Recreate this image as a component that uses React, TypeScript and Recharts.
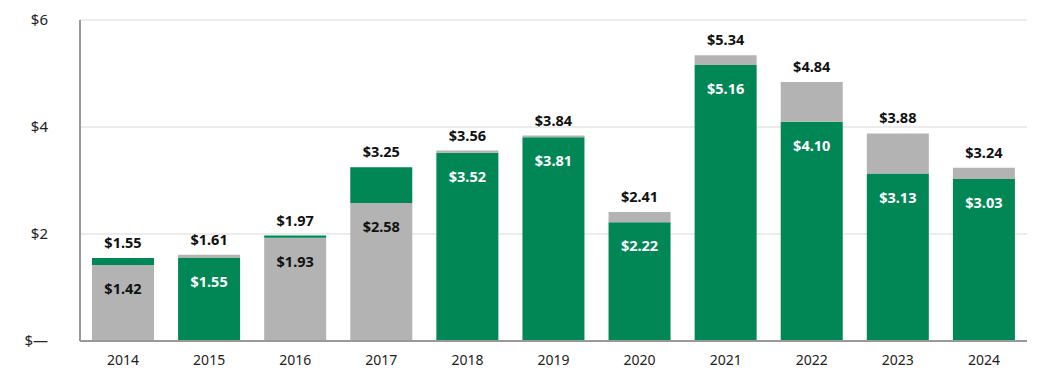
import React from "react";
import { BarChart, Bar, XAxis, YAxis, CartesianGrid, Cell, LabelList } from "recharts";

const years = ["2014", "2015", "2016", "2017", "2018", "2019", "2020", "2021", "2022", "2023", "2024"];
// lower value shown inside the bar, and total shown above it
const lowerValues = [1.42, 1.55, 1.93, 2.58, 3.52, 3.81, 2.22, 5.16, 4.1, 3.13, 3.03];
const totals = [1.55, 1.61, 1.97, 3.25, 3.56, 3.84, 2.41, 5.34, 4.84, 3.88, 3.24];
// which segment is green at the bottom
const lowerIsGreen = [false, true, false, false, true, true, true, true, true, true, true];
const yTicks = [0, 2, 4, 6];

const GREEN = "#008755";
const GRAY = "#b3b3b3";
const FONT = "'Noto Sans', 'Open Sans', sans-serif";

const data = years.map((year, i) => ({
  year,
  lower: lowerValues[i],
  upper: Math.round((totals[i] - lowerValues[i]) * 100) / 100,
  total: totals[i],
  green: lowerIsGreen[i],
}));

const money = (v: number) => "$" + v.toFixed(2);

const LowerLabel = (props: any) => {
  const { x, y, width, index } = props;
  const d = data[index];
  return (
    <text
      x={x + width / 2}
      y={y + 23}
      textAnchor="middle"
      dominantBaseline="central"
      fontFamily={FONT}
      fontWeight={700}
      fontSize={14.5}
      fill={d.green ? "#ffffff" : "#111111"}
    >
      {money(d.lower)}
    </text>
  );
};

const TotalLabel = (props: any) => {
  const { x, y, width, index } = props;
  const d = data[index];
  return (
    <text
      x={x + width / 2}
      y={y - 16}
      textAnchor="middle"
      dominantBaseline="central"
      fontFamily={FONT}
      fontWeight={700}
      fontSize={14.5}
      fill="#111111"
    >
      {money(d.total)}
    </text>
  );
};

export default function App() {
  return (
    <div style={{ background: "#fff" }}>
      <BarChart
        width={1040}
        height={366}
        data={data}
        margin={{ top: 12, right: 21, left: 0, bottom: 0 }}
        barCategoryGap={12}
      >
        <CartesianGrid vertical={false} stroke="#e6e6e6" strokeWidth={1.5} />
        <XAxis
          dataKey="year"
          height={33}
          tickLine={false}
          tickSize={0}
          tickMargin={14}
          axisLine={{ stroke: "#999999", strokeWidth: 2 }}
          tick={{ fill: "#222222", fontSize: 14, fontFamily: FONT }}
        />
        <YAxis
          width={72}
          domain={[0, 6]}
          ticks={yTicks}
          interval={0}
          tickLine={false}
          tickSize={0}
          tickMargin={32}
          axisLine={{ stroke: "#999999", strokeWidth: 2 }}
          tickFormatter={(v: number) => (v === 0 ? "$\u2014" : "$" + v)}
          tick={{ fill: "#222222", fontSize: 15, fontFamily: FONT }}
        />
        <Bar dataKey="lower" stackId="a" isAnimationActive={false}>
          {data.map((d) => (
            <Cell key={d.year} fill={d.green ? GREEN : GRAY} />
          ))}
          <LabelList dataKey="lower" content={LowerLabel} />
        </Bar>
        <Bar dataKey="upper" stackId="a" isAnimationActive={false}>
          {data.map((d) => (
            <Cell key={d.year} fill={d.green ? GRAY : GREEN} />
          ))}
          <LabelList dataKey="total" content={TotalLabel} />
        </Bar>
      </BarChart>
    </div>
  );
}
